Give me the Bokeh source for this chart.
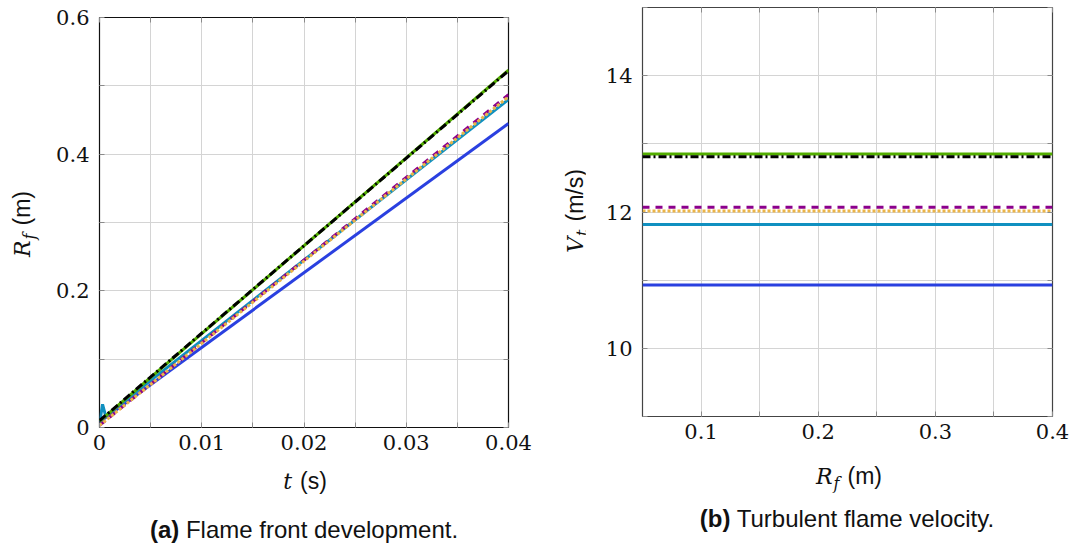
from bokeh.plotting import figure
from bokeh.models import Range1d, FixedTicker, LinearAxis, Div
from bokeh.layouts import row, column
from bokeh.embed import file_html
from bokeh.resources import INLINE

# ---------------- data: panel (a) flame front development ----------------
t_line = [0.0, 0.04]
rf_green = [0.009, 0.523]
rf_black = [0.010, 0.522]
rf_purple = [0.003, 0.487]
rf_orange = [0.003, 0.484]
t_cyan = [0.0, 0.0001, 0.0003, 0.0006, 0.04]
rf_cyan = [0.013, 0.015, 0.034, 0.017, 0.480]
rf_blue = [0.008, 0.445]

xticks_a = [0.0, 0.01, 0.02, 0.03, 0.04]
xlabels_a = ["0", "0.01", "0.02", "0.03", "0.04"]
xminor_a = [0.005, 0.015, 0.025, 0.035]
yticks_a = [0.0, 0.2, 0.4, 0.6]
ylabels_a = ["0", "0.2", "0.4", "0.6"]
yminor_a = [0.1, 0.3, 0.5]

# ---------------- data: panel (b) turbulent flame velocity ----------------
rf_span = [0.05, 0.4]
vt_green = [12.85, 12.85]
vt_black = [12.81, 12.81]
vt_purple = [12.07, 12.07]
vt_orange = [12.015, 12.015]
vt_cyan = [11.815, 11.815]
vt_blue = [10.93, 10.93]

xticks_b = [0.1, 0.2, 0.3, 0.4]
xlabels_b = ["0.1", "0.2", "0.3", "0.4"]
xminor_b = [0.15, 0.25, 0.35]
yticks_b = [10, 12, 14]
ylabels_b = ["10", "12", "14"]
yminor_b = [9, 11, 13, 15]

GREEN = "#52ad00"
BLACK = "#000000"
PURPLE = "#8c008c"
ORANGE = "#ebb447"
CYAN = "#1090c0"
BLUE = "#2a40e0"
GRID = "#d4d4d4"
TICK = "#8a8a8a"
LW = 3

SERIF = "DejaVu Serif"
SANS = "Liberation Sans"


def style(p, xt, xl, xm, yt, yl, ym, outline):
    p.xaxis.ticker = FixedTicker(ticks=xt, minor_ticks=xm)
    p.yaxis.ticker = FixedTicker(ticks=yt, minor_ticks=ym)
    p.xaxis.major_label_overrides = dict(zip(xt, xl))
    p.yaxis.major_label_overrides = dict(zip(yt, yl))
    for ax in (p.xaxis[0], p.yaxis[0]):
        ax.axis_line_color = None
        ax.major_tick_in = 5
        ax.major_tick_out = 0
        ax.minor_tick_in = 5
        ax.minor_tick_out = 0
        ax.major_tick_line_color = TICK
        ax.minor_tick_line_color = TICK
        ax.major_label_text_font = SERIF
        ax.major_label_text_font_size = "21px"
        ax.major_label_text_color = "#111111"
    p.xaxis.major_label_standoff = 7
    p.yaxis.major_label_standoff = 10
    for grid in (p.xgrid[0], p.ygrid[0]):
        grid.grid_line_color = GRID
        grid.minor_grid_line_color = GRID
        grid.grid_line_width = 1
        grid.minor_grid_line_width = 1
    # mirrored ticks on top and right
    top = LinearAxis(ticker=FixedTicker(ticks=xt, minor_ticks=xm))
    right = LinearAxis(ticker=FixedTicker(ticks=yt, minor_ticks=ym))
    for ax in (top, right):
        ax.axis_line_color = None
        ax.major_tick_in = 5
        ax.major_tick_out = 0
        ax.minor_tick_in = 5
        ax.minor_tick_out = 0
        ax.major_tick_line_color = TICK
        ax.minor_tick_line_color = TICK
        ax.major_label_text_font_size = "0px"
        ax.major_label_standoff = 0
    top.major_label_overrides = {v: "" for v in xt}
    right.major_label_overrides = {v: "" for v in yt}
    p.add_layout(top, "above")
    p.add_layout(right, "right")
    p.outline_line_color = outline
    p.outline_line_width = 1.2
    p.background_fill_color = "white"
    p.border_fill_color = "white"


def ital(s, size=22):
    return f"<span style=\"font-family:'{SERIF}';font-style:italic;font-size:{size}px\">{s}</span>"


def sub(s, size=16):
    return (f"<span style=\"font-family:'{SERIF}';font-style:italic;font-size:{size}px;"
            f"position:relative;top:5px;margin-left:1px\">{s}</span>")


def sans(s, size=23, bold=False, gap=0):
    w = "bold" if bold else "normal"
    return (f"<span style=\"font-family:'{SANS}';font-size:{size}px;font-weight:{w};"
            f"margin-left:{gap}px\">{s}</span>")


def text_div(width, height, cx, cy, html, rotate=False):
    rot = " rotate(-90deg)" if rotate else ""
    inner = (f"<div style=\"position:relative;width:{width}px;height:{height}px;\">"
             f"<div style=\"position:absolute;left:{cx}px;top:{cy}px;"
             f"transform:translate(-50%,-50%){rot};white-space:nowrap;line-height:1;color:#111111;\">"
             f"{html}</div></div>")
    return Div(text=inner, width=width, height=height, margin=0)


H1 = 460

# ---------------- panel (a) ----------------
pa = figure(width=495, height=H1, output_backend="svg", toolbar_location=None,
            x_range=Range1d(0, 0.04), y_range=Range1d(0, 0.6),
            min_border_left=59, min_border_right=27, min_border_top=17, min_border_bottom=33)
style(pa, xticks_a, xlabels_a, xminor_a, yticks_a, ylabels_a, yminor_a, "#111111")

pa.line(t_line, rf_blue, line_color=BLUE, line_width=LW)
pa.line(t_cyan, rf_cyan, line_color=CYAN, line_width=LW)
pa.line(t_line, rf_purple, line_color=PURPLE, line_width=LW, line_dash="7 6")
pa.line(t_line, rf_orange, line_color=ORANGE, line_width=LW, line_dash="3 2")
pa.line(t_line, rf_green, line_color=GREEN, line_width=LW)
pa.line(t_line, rf_black, line_color=BLACK, line_width=LW, line_dash="8 3 2 3")

ylab_a = text_div(40, H1, 22, 224, ital("R") + sub("f") + sans("(m)", gap=8), rotate=True)
xlab_a = text_div(535, 40, 305, 21, ital("t") + sans("(s)", gap=8))
cap_a = text_div(535, 48, 304, 30, sans("(a)", 24, True) + sans(" Flame front development.", 24))
col_a = column(row(ylab_a, pa, spacing=0), xlab_a, cap_a, spacing=0)

# ---------------- panel (b) ----------------
pb = figure(width=486, height=H1, output_backend="svg", toolbar_location=None,
            x_range=Range1d(0.05, 0.4), y_range=Range1d(9, 15),
            min_border_left=57, min_border_right=19, min_border_top=7, min_border_bottom=44)
style(pb, xticks_b, xlabels_b, xminor_b, yticks_b, ylabels_b, yminor_b, "#444444")

pb.line(rf_span, vt_blue, line_color=BLUE, line_width=LW)
pb.line(rf_span, vt_cyan, line_color=CYAN, line_width=LW)
pb.line(rf_span, vt_orange, line_color=ORANGE, line_width=LW, line_dash="3 2")
pb.line(rf_span, vt_purple, line_color=PURPLE, line_width=LW, line_dash="7 6")
pb.line(rf_span, vt_green, line_color=GREEN, line_width=LW)
pb.line(rf_span, vt_black, line_color=BLACK, line_width=LW, line_dash="8 3 2 3")

ylab_b = text_div(50, H1, 40, 211, ital("V") + sub("t") + sans("(m/s)", gap=8), rotate=True)
xlab_b = text_div(536, 40, 314, 16, ital("R") + sub("f") + sans("(m)", gap=8))
cap_b = text_div(536, 48, 312, 19, sans("(b)", 24, True) + sans(" Turbulent flame velocity.", 24))
col_b = column(row(ylab_b, pb, spacing=0), xlab_b, cap_b, spacing=0)

layout = row(col_a, col_b, spacing=0)
open("out.html", "w").write(file_html(layout, INLINE))
